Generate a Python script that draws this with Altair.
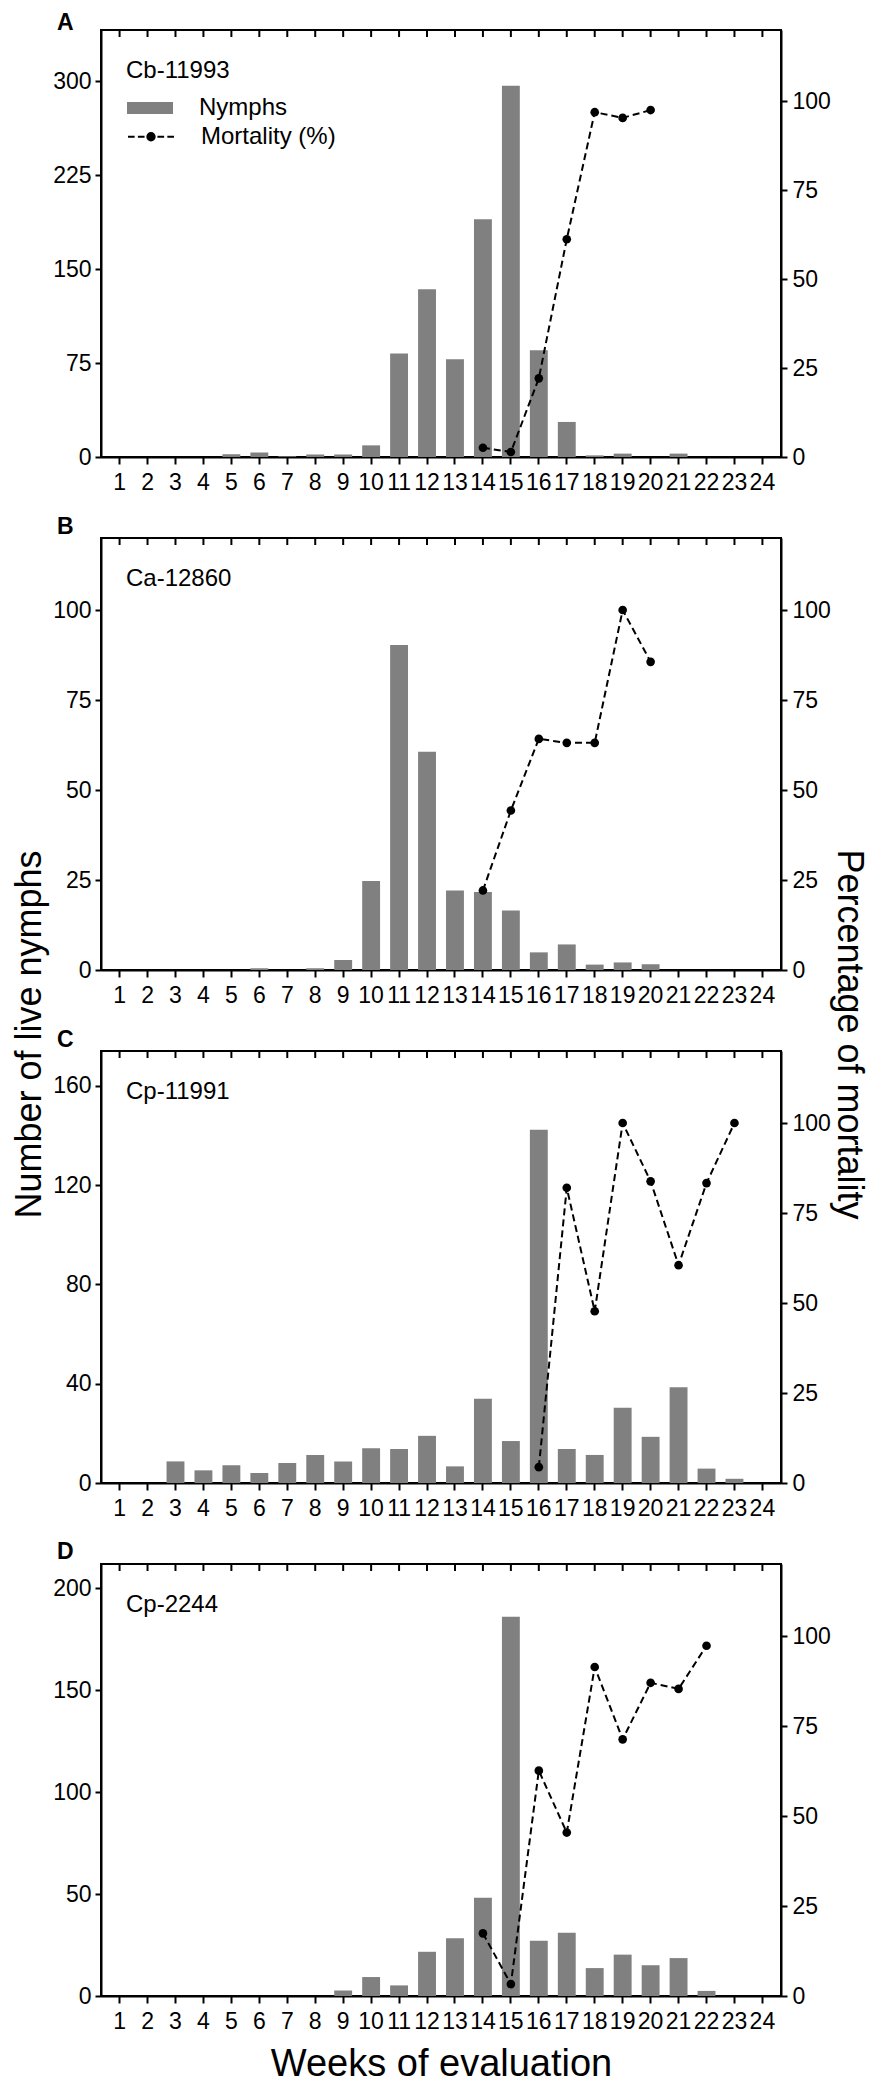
import altair as alt
import pandas as pd

FONT = "Liberation Sans"
GREY = "#808080"

weeks = list(range(1, 25))

# Panel A : Cb-11993
nymphs_a = [0, 0, 0, 0, 2.1, 3.5, 0.5, 1.9, 1.9, 9.3, 82.7, 133.9, 78.1, 189.9,
            296.5, 85.3, 28, 1.3, 2.7, 0, 2.7, 0, 0, 0]
mort_weeks_a = [14, 15, 16, 17, 18, 19, 20]
mort_a = [2.6, 1.4, 22.1, 61.2, 96.9, 95.3, 97.5]

# Panel B : Ca-12860
nymphs_b = [0, 0, 0, 0, 0, 0.5, 0, 0.5, 2.8, 24.7, 90.3, 60.6, 22.1, 21.7,
            16.5, 4.9, 7.1, 1.5, 2.1, 1.6, 0, 0, 0, 0]
mort_weeks_b = [14, 15, 16, 17, 18, 19, 20]
mort_b = [22.1, 44.3, 64.2, 63.1, 63.1, 100, 85.6]

# Panel C : Cp-11991
nymphs_c = [0, 0, 8.7, 5.1, 7.1, 4.0, 8.1, 11.3, 8.7, 14.0, 13.7, 19.0, 6.7, 33.9,
            16.9, 142.3, 13.7, 11.3, 30.3, 18.6, 38.6, 5.8, 1.7, 0]
mort_weeks_c = [16, 17, 18, 19, 20, 21, 22, 23]
mort_c = [4.4, 82.0, 47.7, 100, 83.8, 60.5, 83.3, 100]

# Panel D : Cp-2244
nymphs_d = [0, 0, 0, 0, 0, 0, 0, 0, 2.7, 9.3, 5.2, 21.7, 28.3, 48.2,
            186.1, 27.1, 31.0, 13.7, 20.3, 15.1, 18.6, 2.5, 0, 0]
mort_weeks_d = [14, 15, 16, 17, 18, 19, 20, 21, 22]
mort_d = [17.4, 3.3, 62.6, 45.4, 91.4, 71.3, 87.0, 85.3, 97.3]

pct_ticks = [0, 25, 50, 75, 100]

RECT_SYM = "M-1,-0.26H1V0.26H-1Z"
DASHDOT_SYM = ("M-1,0H-0.71M-0.57,0H-0.28M0.28,0H0.57M0.71,0H1"
               "M-0.16,0A0.16,0.16 0 1,0 0.16,0A0.16,0.16 0 1,0 -0.16,0Z")

W = 680


def panel(letter, strain, nymphs, mweeks, mort, ymax, yticks, height,
          letter_y, legend=False, left_title=False, right_title=False,
          x_title=False):
    bars_df = pd.DataFrame({"week": weeks, "nymphs": nymphs, "s1": "Nymphs"})
    mort_df = pd.DataFrame({"week": mweeks, "mort": mort, "s2": "Mortality (%)"})
    ticks_df = pd.DataFrame({"week": weeks})
    xscale = alt.Scale(domain=weeks, paddingInner=0.36, paddingOuter=0.345)

    xb_axis = dict(orient="bottom", labelAngle=0, tickSize=7, labelPadding=7)
    if x_title:
        xb_axis.update(title="Weeks of evaluation", titleFontSize=38,
                       titlePadding=12)
    else:
        xb_axis.update(title=None)

    yl_axis = dict(orient="left", values=yticks, tickSize=6, labelPadding=4)
    if left_title:
        yl_axis.update(title="Number of live nymphs", titleFontSize=36,
                       titleX=-61, titleY=496, titleAngle=270,
                       titleAlign="center", titleBaseline="alphabetic")
    else:
        yl_axis.update(title=None)

    yr_axis = dict(orient="right", values=pct_ticks, tickSize=6, labelPadding=5)
    if right_title:
        yr_axis.update(title="Percentage of mortality", titleFontSize=36,
                       titleX=56, titleY=496, titleAngle=90,
                       titleAlign="center", titleBaseline="alphabetic")
    else:
        yr_axis.update(title=None)

    bar_enc = dict(
        x=alt.X("week:O", scale=xscale, axis=alt.Axis(**xb_axis)),
        y=alt.Y("nymphs:Q", scale=alt.Scale(domain=[0, ymax], nice=False),
                axis=alt.Axis(**yl_axis)),
    )
    if legend:
        bar_enc["fill"] = alt.Fill(
            "s1:N", scale=alt.Scale(domain=["Nymphs"], range=[GREY]),
            legend=alt.Legend(orient="none", legendX=26, legendY=55, title=None,
                              symbolType=RECT_SYM, symbolSize=2116,
                              symbolStrokeWidth=0, labelFontSize=24,
                              labelOffset=26, labelFont=FONT, labelColor="black",
                              labelLimit=300, padding=0))
    bars = alt.Chart(bars_df).mark_bar(color=GREY).encode(**bar_enc)

    # inward tick marks along the top frame, placed by the shared week scale
    top_ticks = alt.Chart(ticks_df).mark_rule(color="black", strokeWidth=2).encode(
        x=alt.X("week:O", scale=xscale, axis=None),
        y=alt.value(0), y2=alt.value(7))

    def x_r():
        return alt.X("week:O", scale=xscale, axis=None)

    def y_r():
        return alt.Y("mort:Q", scale=alt.Scale(domain=[0, 120], nice=False),
                     axis=alt.Axis(**yr_axis))

    line_enc = dict(x=x_r(), y=y_r())
    pt_enc = dict(x=x_r(), y=y_r())
    if legend:
        leg = dict(orient="none", legendX=26, legendY=82.7, title=None,
                   symbolType=DASHDOT_SYM, symbolSize=2116, symbolStrokeWidth=2,
                   labelFontSize=24, labelOffset=26, labelFont=FONT,
                   labelColor="black", labelLimit=300, padding=0)
        line_enc["stroke"] = alt.Stroke(
            "s2:N", scale=alt.Scale(domain=["Mortality (%)"], range=["black"]),
            legend=alt.Legend(**leg))
        pt_enc["color"] = alt.Color(
            "s2:N", scale=alt.Scale(domain=["Mortality (%)"], range=["black"]),
            legend=alt.Legend(**leg))

    line = alt.Chart(mort_df).mark_line(
        color="black", strokeWidth=2, strokeDash=[7, 4]).encode(**line_enc)
    pts = alt.Chart(mort_df).mark_point(
        filled=True, size=75, opacity=1, color="black").encode(**pt_enc)

    lab_df = pd.DataFrame({"strain": [strain], "letter": [letter]})
    txt = alt.Chart(lab_df).mark_text(
        align="left", baseline="alphabetic", fontSize=24, font=FONT,
        color="black").encode(text="strain:N", x=alt.value(25), y=alt.value(48))
    let = alt.Chart(lab_df).mark_text(
        align="left", baseline="alphabetic", fontSize=23, font=FONT,
        fontWeight="bold", color="black").encode(
        text="letter:N", x=alt.value(-44), y=alt.value(letter_y))

    right = alt.layer(line, pts)
    ch = alt.layer(bars, top_ticks, right, txt, let).resolve_scale(
        y="independent").resolve_axis(x="independent", y="independent")
    return ch.properties(width=W, height=height)


pa = panel("A", "Cb-11993", nymphs_a, mort_weeks_a, mort_a, 341,
           [0, 75, 150, 225, 300], 427, 0, legend=True)
pb = panel("B", "Ca-12860", nymphs_b, mort_weeks_b, mort_b, 120,
           [0, 25, 50, 75, 100], 432, -4, left_title=True, right_title=True)
pc = panel("C", "Cp-11991", nymphs_c, mort_weeks_c, mort_c, 174,
           [0, 40, 80, 120, 160], 432, -4)
pd_ = panel("D", "Cp-2244", nymphs_d, mort_weeks_d, mort_d, 212,
            [0, 50, 100, 150, 200], 432, -5, x_title=True)

chart = alt.vconcat(pa, pb, pc, pd_, spacing=81, bounds="flush").configure_view(
    stroke="black", strokeWidth=2
).configure_axis(
    grid=False, domainColor="black", domainWidth=2, tickColor="black",
    tickWidth=2, labelFont=FONT, labelFontSize=23, labelColor="black",
    titleFont=FONT, titleColor="black", titleFontWeight="normal"
).configure_text(font=FONT).properties(
    padding={"left": 2, "top": 3, "right": 2, "bottom": 0},
    background="white")

chart.save("out.html", embed_options={"renderer": "svg", "actions": False})
